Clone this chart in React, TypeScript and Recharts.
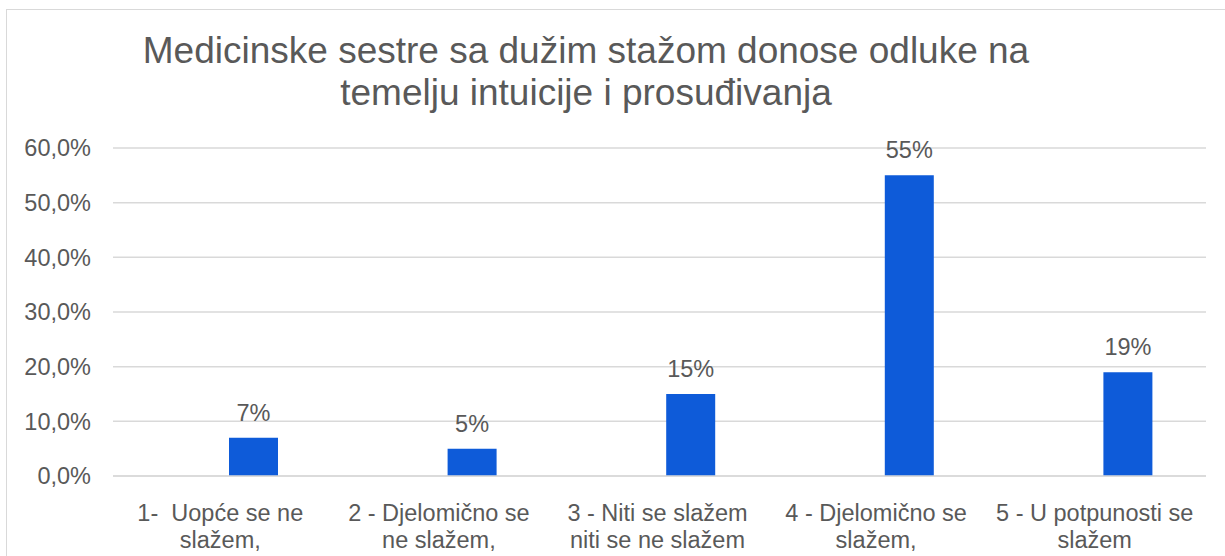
import { BarChart, Bar, XAxis, YAxis, CartesianGrid, LabelList } from 'recharts';

const categories = [
  ['1-  Uopće se ne', 'slažem,'],
  ['2 - Djelomično se', 'ne slažem,'],
  ['3 - Niti se slažem', 'niti se ne slažem'],
  ['4 - Djelomično se', 'slažem,'],
  ['5 - U potpunosti se', 'slažem'],
];
const values = [7, 5, 15, 55, 19];
const yTicks = [0, 10, 20, 30, 40, 50, 60];
const titleLines = [
  'Medicinske sestre sa dužim stažom donose odluke na',
  'temelju intuicije i prosuđivanja',
];

const FONT = '"Liberation Sans", Arial, sans-serif';
const TEXT = '#595959';

const data = categories.map((lines, i) => ({
  name: lines.join(' '),
  empty: null,
  value: values[i],
}));

const CategoryTick = (props: any) => {
  const { x, y, payload } = props;
  const lines = categories[payload.index] ?? [payload.value];
  return (
    <g transform={`translate(${x},${y})`}>
      {lines.map((line, i) => (
        <text
          key={i}
          x={-2}
          y={37 + i * 27}
          textAnchor="middle"
          fill={TEXT}
          fontSize={23.5}
          fontFamily={FONT}
          style={{ whiteSpace: 'pre' }}
        >
          {line}
        </text>
      ))}
    </g>
  );
};

export default function App() {
  return (
    <div
      style={{
        position: 'absolute',
        left: 0,
        top: 0,
        width: 1225,
        height: 556,
        overflow: 'hidden',
        background: '#fff',
      }}
    >
      <div
        style={{
          position: 'absolute',
          left: 6,
          top: 9,
          width: 1300,
          height: 700,
          border: '1.5px solid #d9d9d9',
        }}
      />
      <svg
        width={1225}
        height={130}
        style={{ position: 'absolute', left: 0, top: 0 }}
      >
        {titleLines.map((line, i) => (
          <text
            key={i}
            x={586}
            y={63 + i * 42}
            textAnchor="middle"
            fill={TEXT}
            fontSize={37}
            fontFamily={FONT}
          >
            {line}
          </text>
        ))}
      </svg>
      <div style={{ position: 'absolute', left: 0, top: 0 }}>
        <BarChart
          width={1225}
          height={556}
          data={data}
          margin={{ top: 148, right: 19, bottom: 0, left: 13 }}
          barSize={49}
          barGap={14}
        >
          <CartesianGrid vertical={false} stroke="#d9d9d9" strokeWidth={1.5} />
          <XAxis
            dataKey="name"
            height={80}
            axisLine={{ stroke: '#d9d9d9', strokeWidth: 1.5 }}
            tickLine={false}
            interval={0}
            tick={<CategoryTick />}
          />
          <YAxis
            width={100}
            domain={[0, 60]}
            ticks={yTicks}
            axisLine={false}
            tickLine={false}
            tickSize={0}
            tickMargin={22}
            tickFormatter={(v: number) => `${v.toFixed(1).replace('.', ',')}%`}
            tick={{ fill: TEXT, fontSize: 23.5, fontFamily: FONT }}
          />
          <Bar dataKey="empty" fill="none" isAnimationActive={false} />
          <Bar dataKey="value" fill="#0e5bd9" isAnimationActive={false}>
            <LabelList
              dataKey="value"
              position="top"
              offset={17}
              formatter={(v: any) => `${v}%`}
              fill={TEXT}
              fontSize={23.5}
              fontFamily={FONT}
            />
          </Bar>
        </BarChart>
      </div>
    </div>
  );
}
